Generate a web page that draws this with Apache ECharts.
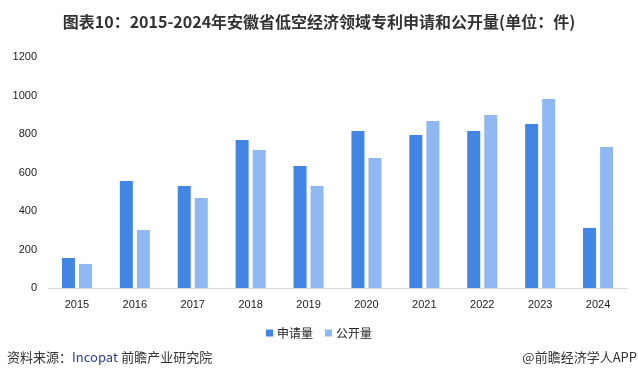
<!DOCTYPE html>
<html>
<head>
<meta charset="utf-8">
<script src="https://cdn.jsdelivr.net/npm/echarts@6/dist/echarts.min.js"></script>
<style>
html,body{margin:0;padding:0;background:#fff;}
#c{width:638px;height:381px;}
</style>
</head>
<body>
<div id="c"></div>
<script>
const years = ['2015','2016','2017','2018','2019','2020','2021','2022','2023','2024'];
const applied = [156, 556, 530, 769, 634, 816, 795, 816, 852, 312];
const published = [125, 301, 468, 717, 530, 675, 868, 899, 982, 733];
const yTicks = [0, 200, 400, 600, 800, 1000, 1200];
const seriesNames = ['申请量', '公开量'];

const chart = echarts.init(document.getElementById('c'), null, {renderer: 'canvas'});
const font = '"Noto Sans CJK SC", "Noto Sans", sans-serif';
chart.setOption({
  backgroundColor: '#fff',
  animation: false,
  title: {
    text: '图表10：2015-2024年安徽省低空经济领域专利申请和公开量(单位：件)',
    left: 'center', top: 9,
    textStyle: {fontSize: 16, fontWeight: 'bold', color: '#333', fontFamily: font}
  },
  graphic: [
    {type: 'text', left: 7, top: 351, style: {
      rich: {a: {fill: '#333', fontSize: 13, fontFamily: font}, b: {fill: '#2c3e8c', fontSize: 13, fontFamily: font}},
      text: '{a|资料来源：}{b|Incopat} {a|前瞻产业研究院}'
    }},
    {type: 'text', right: 1, top: 351, style: {
      text: '@前瞻经济学人APP', fill: '#333', fontSize: 13, fontFamily: font
    }}
  ],
  legend: {
    data: seriesNames, top: 322, left: 'center',
    itemWidth: 7, itemHeight: 7, itemGap: 12,
    icon: 'rect',
    textStyle: {fontSize: 12, color: '#222', fontFamily: font, padding: [0,0,0,-1]}
  },
  grid: {left: 48, right: 11, top: 57, bottom: 93, containLabel: false},
  xAxis: {
    type: 'category', data: years,
    axisLine: {lineStyle: {color: '#d9d9d9', width: 1}},
    axisTick: {show: false},
    axisLabel: {color: '#222', fontSize: 11, margin: 11, fontFamily: 'Liberation Sans, sans-serif'}
  },
  yAxis: {
    type: 'value', min: yTicks[0], max: yTicks[yTicks.length-1], interval: 200,
    axisLine: {show: false}, axisTick: {show: false},
    splitLine: {show: false},
    axisLabel: {color: '#222', fontSize: 11, margin: 11, fontFamily: 'Liberation Sans, sans-serif',
      formatter: function (v) { return String(v); }}
  },
  series: [
    {name: seriesNames[0], type: 'bar', data: applied, barWidth: 13, barGap: '31%', itemStyle: {color: '#4285E2'}},
    {name: seriesNames[1], type: 'bar', data: published, barWidth: 13, itemStyle: {color: '#8FB8F3'}}
  ]
});
</script>
</body>
</html>
